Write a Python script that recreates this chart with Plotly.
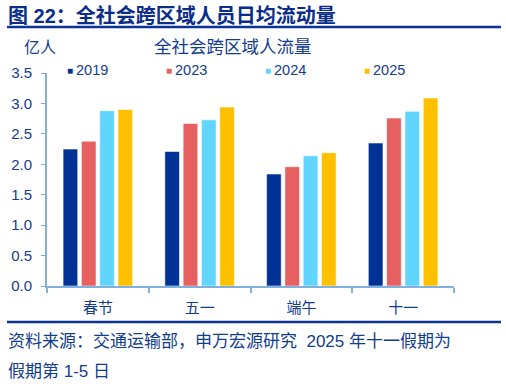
import plotly.graph_objects as go

categories = ["春节", "五一", "端午", "十一"]
years = ["2019", "2023", "2024", "2025"]
v2019 = [2.25, 2.21, 1.84, 2.35]
v2023 = [2.38, 2.67, 1.96, 2.76]
v2024 = [2.88, 2.73, 2.14, 2.87]
v2025 = [2.90, 2.94, 2.19, 3.09]
series = [v2019, v2023, v2024, v2025]
colors = ["#003296", "#E66060", "#62D5FF", "#FFC000"]
yticks = [0.0, 0.5, 1.0, 1.5, 2.0, 2.5, 3.0, 3.5]

TXT = "#123C8C"
FONT = "Liberation Sans, Arial, Noto Sans CJK SC, sans-serif"

W, H = 506, 384
L, R, T, B = 47, 52, 73, 98
pw, ph = W - L - R, H - T - B


def px(x):
    return (x - L) / pw


def py(y):
    return (H - B - y) / ph


fig = go.Figure()
for name, vals, c in zip(years, series, colors):
    fig.add_trace(go.Bar(x=categories, y=vals, name=name, marker_color=c,
                         marker_line=dict(color="rgba(255,255,255,0.55)", width=1),
                         showlegend=False))

annotations = [
    dict(text="<b>图 22：全社会跨区域人员日均流动量</b>", x=px(6), y=py(15), xanchor="left",
         yanchor="middle", font=dict(size=20, color="#0B2D8A", family=FONT)),
    dict(text="亿人", x=px(40), y=py(47), xanchor="center", yanchor="middle",
         font=dict(size=16, color=TXT, family=FONT)),
    dict(text="全社会跨区域人流量", x=px(233), y=py(47), xanchor="center", yanchor="middle",
         font=dict(size=17.5, color=TXT, family=FONT)),
    dict(text="资料来源：交通运输部，申万宏源研究  2025 年十一假期为", x=px(6), y=py(341),
         xanchor="left", yanchor="middle", font=dict(size=17, color=TXT, family=FONT)),
    dict(text="假期第 1-5 日", x=px(6), y=py(371), xanchor="left", yanchor="middle",
         font=dict(size=17, color=TXT, family=FONT)),
]
leg_x = [66, 165, 264, 363]
for lx, name, c in zip(leg_x, years, colors):
    annotations.append(dict(text="■", x=px(lx - 1), y=py(70), xanchor="left", yanchor="middle",
                            font=dict(size=10, color=c, family=FONT)))
    annotations.append(dict(text=name, x=px(lx + 8), y=py(70), xanchor="left", yanchor="middle",
                            font=dict(size=14.5, color=TXT, family=FONT)))
for a in annotations:
    a.update(xref="paper", yref="paper", showarrow=False)

shapes = [
    dict(type="line", xref="paper", yref="paper", x0=px(7), x1=px(501), y0=py(27), y1=py(27),
         line=dict(color="#0A3394", width=2.5)),
    dict(type="line", xref="paper", yref="paper", x0=px(7), x1=px(501), y0=py(322), y1=py(322),
         line=dict(color="#0A3394", width=2.5)),
]

fig.update_layout(
    width=W, height=H, margin=dict(l=L, r=R, t=T, b=B),
    paper_bgcolor="white", plot_bgcolor="white",
    barmode="group", bargap=0.28, bargroupgap=0.2,
    annotations=annotations, shapes=shapes,
    font=dict(family=FONT, color=TXT, size=14),
    xaxis=dict(type="category", showline=True, linecolor="#7FB0DE", linewidth=2,
               ticks="outside", ticklen=5, tickcolor="#7FB0DE", tickwidth=1.5,
               tickson="boundaries", showgrid=False, ticklabelstandoff=7,
               tickfont=dict(family=FONT, size=15, color=TXT)),
    yaxis=dict(range=[0, 3.5], tickvals=yticks, ticktext=[f"{v:.1f}" for v in yticks],
               showline=True, linecolor="#7FB0DE", linewidth=2, ticks="outside",
               ticklen=4, tickcolor="#7FB0DE", showgrid=False, zeroline=False,
               ticklabelstandoff=6,
               tickfont=dict(family=FONT, size=15, color=TXT)),
)

fig.write_html("out.html", config={"displayModeBar": False},
               post_script="document.body.style.margin='0';")
